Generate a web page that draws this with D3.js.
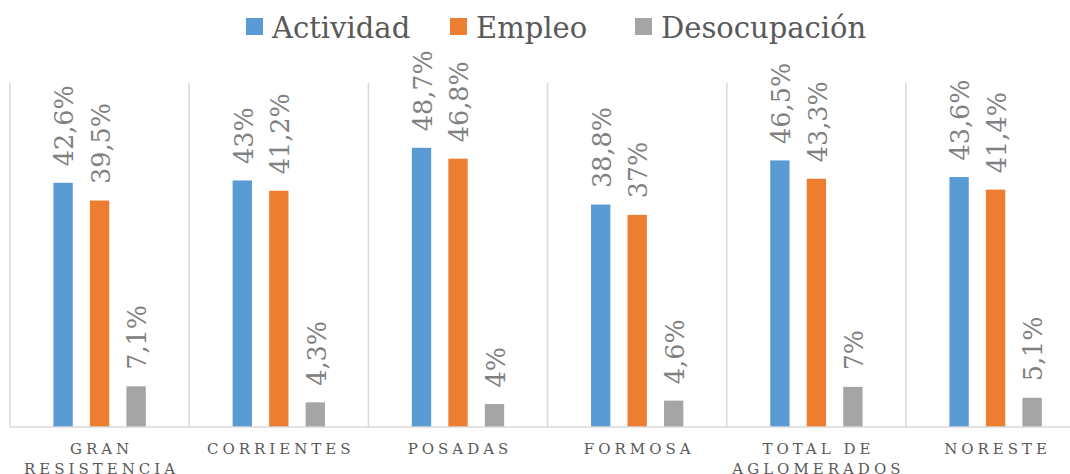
<!DOCTYPE html>
<html>
<head>
<meta charset="utf-8">
<script src="https://cdn.jsdelivr.net/npm/d3@7"></script>
<style>
  body { margin: 0; background: #fff; }
  svg { display: block; font-family: "DejaVu Serif", serif; }
</style>
</head>
<body>
<svg width="1070" height="474"></svg>
<script>
var categories = ["GRAN RESISTENCIA", "CORRIENTES", "POSADAS", "FORMOSA", "TOTAL DE AGLOMERADOS", "NORESTE"];
var seriesNames = ["Actividad", "Empleo", "Desocupación"];
var actividad = [42.6, 43, 48.7, 38.8, 46.5, 43.6];
var empleo = [39.5, 41.2, 46.8, 37, 43.3, 41.4];
var desocupacion = [7.1, 4.3, 4, 4.6, 7, 5.1];
var colors = ["#5B9BD5", "#ED7D31", "#A5A5A5"];

var seriesValues = [actividad, empleo, desocupacion];
var rows = categories.map(function(c, i) {
    return { cat: c, vals: seriesNames.map(function(s, j) { return { name: s, v: seriesValues[j][i], color: colors[j] }; }) };
});

var left = 10, bandW = 179.2,
    baseY = 427, topY = 83;

var svg = d3.select("svg");

var x0 = d3.scaleBand().domain(categories).range([left, left + bandW * categories.length]).padding(0);
var x1 = d3.scaleBand().domain(seriesNames).range([0, x0.bandwidth()]).paddingInner(0.47).paddingOuter(1.19);
var y = d3.scaleLinear().domain([0, 60]).range([baseY, topY]);

// vertical separators between categories
svg.append("g").selectAll("line")
    .data(categories)
    .enter().append("line")
    .attr("x1", function(d) { return x0(d); })
    .attr("x2", function(d) { return x0(d); })
    .attr("y1", topY)
    .attr("y2", baseY)
    .attr("stroke", "#D9D9D9")
    .attr("stroke-width", 1.5);

var fmt = function(v) { return String(v).replace(".", ",") + "%"; };

var group = svg.append("g").selectAll("g")
    .data(rows)
    .enter().append("g")
    .attr("transform", function(d) { return "translate(" + x0(d.cat) + ",0)"; });

group.selectAll("rect")
    .data(function(d) { return d.vals; })
    .enter().append("rect")
    .attr("x", function(d) { return x1(d.name); })
    .attr("width", x1.bandwidth())
    .attr("y", function(d) { return y(d.v); })
    .attr("height", function(d) { return baseY - y(d.v); })
    .attr("fill", function(d) { return d.color; });

group.selectAll("text")
    .data(function(d) { return d.vals; })
    .enter().append("text")
    .attr("transform", function(d) {
        return "translate(" + (x1(d.name) + x1.bandwidth() / 2) + "," + (y(d.v) - 16.5) + ") rotate(-90)";
    })
    .attr("dy", "0.4em")
    .attr("font-size", 25.5)
    .attr("fill", "#808080")
    .text(function(d) { return fmt(d.v); });

// x axis line
svg.append("line")
    .attr("x1", left).attr("x2", 1070)
    .attr("y1", baseY).attr("y2", baseY)
    .attr("stroke", "#D9D9D9")
    .attr("stroke-width", 1.5);

// category labels, wrapped
var labels = svg.append("g").selectAll("text")
    .data(categories)
    .enter().append("text")
    .attr("x", function(d) { return x0(d) + x0.bandwidth() / 2 + 2; })
    .attr("y", 454)
    .attr("text-anchor", "middle")
    .attr("font-size", 15)
    .attr("letter-spacing", "4px")
    .attr("fill", "#595959");

labels.each(function(d) {
    var t = d3.select(this), words = d.split(" "), line = [];
    var cx = t.attr("x");
    var ts = t.append("tspan").attr("x", cx).attr("dy", 0);
    words.forEach(function(w) {
        line.push(w);
        ts.text(line.join(" "));
        if (ts.node().getComputedTextLength() > 165 && line.length > 1) {
            line.pop();
            ts.text(line.join(" "));
            line = [w];
            ts = t.append("tspan").attr("x", cx).attr("dy", "19.5px").text(w);
        }
    });
});

// legend
var legendX = [246, 450, 635];
var legend = svg.append("g").selectAll("g")
    .data(seriesNames)
    .enter().append("g")
    .attr("transform", function(d, i) { return "translate(" + legendX[i] + ",0)"; });

legend.append("rect")
    .attr("x", 0).attr("y", 18)
    .attr("width", 17).attr("height", 17)
    .attr("fill", function(d, i) { return colors[i]; });

legend.append("text")
    .attr("x", 26).attr("y", 38)
    .attr("font-size", 29)
    .attr("fill", "#595959")
    .text(function(d) { return d; });
</script>
</body>
</html>
